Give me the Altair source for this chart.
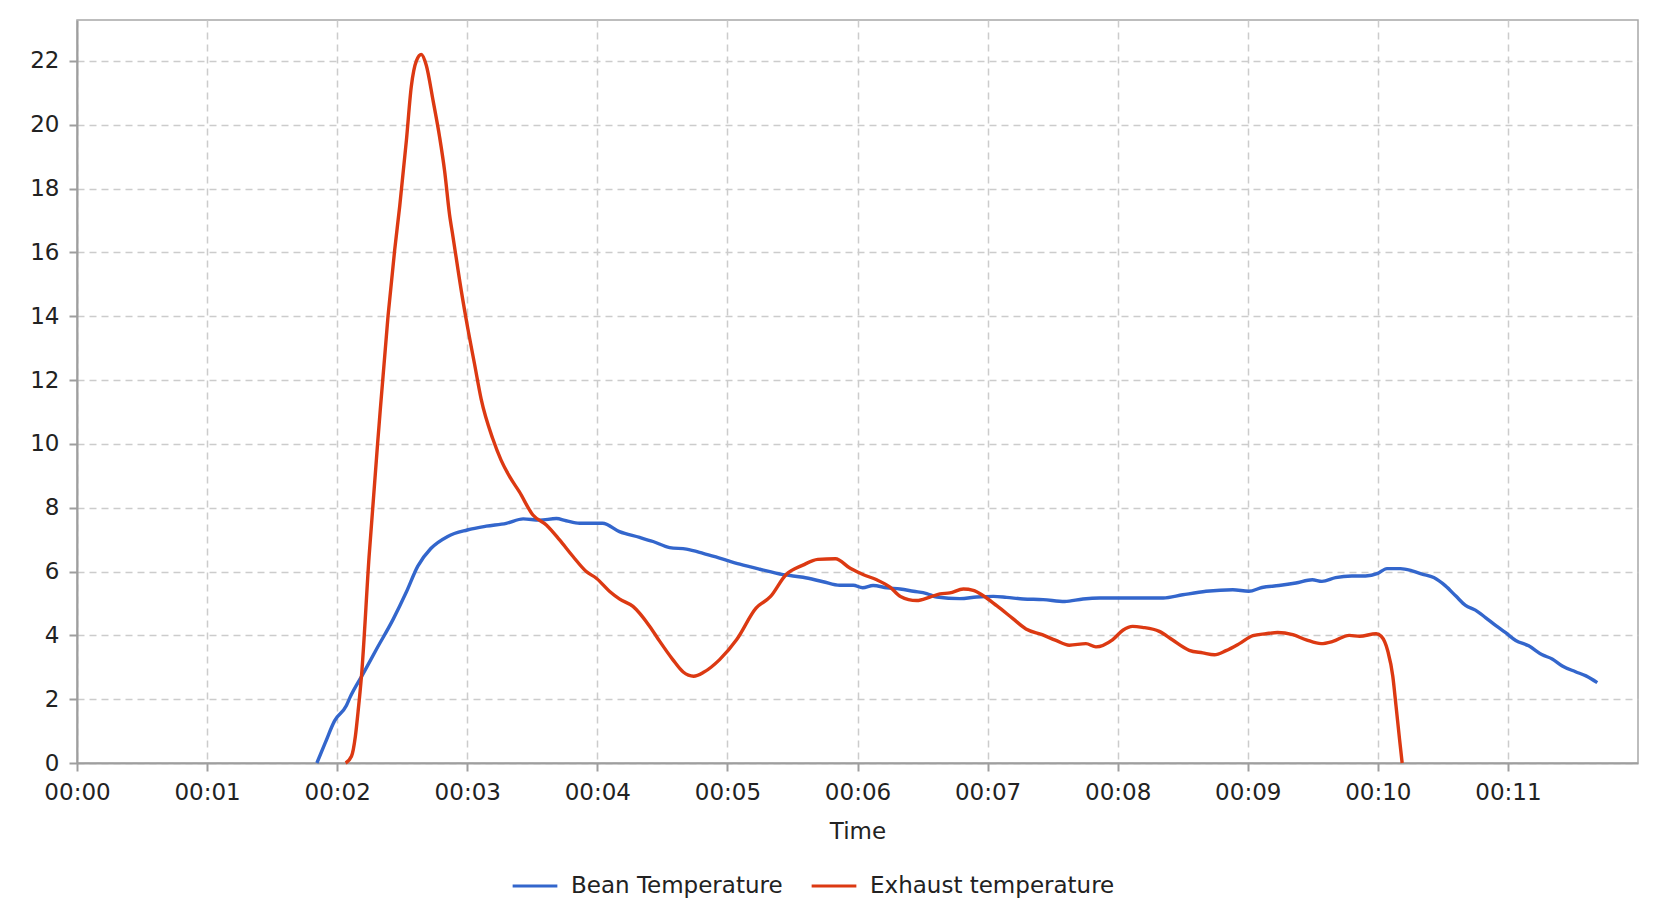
import altair as alt
import pandas as pd

bean_t = [1.844, 1.908, 1.98, 2.07, 2.097, 2.2, 2.30, 2.43, 2.53, 2.62, 2.72, 2.85, 3.0, 3.146, 3.30,
          3.43, 3.556, 3.685, 3.76, 3.864, 4.04, 4.17, 4.325, 4.428, 4.556, 4.685, 4.813, 4.94, 5.095,
          5.249, 5.428, 5.582, 5.736, 5.864, 5.967, 6.04, 6.12, 6.225, 6.327, 6.43, 6.532, 6.61, 6.788,
          6.916, 7.044, 7.146, 7.274, 7.427, 7.593, 7.734, 7.862, 8.115, 8.35, 8.5, 8.68, 8.885, 9.008,
          9.11, 9.24, 9.37, 9.496, 9.57, 9.675, 9.80, 9.905, 10.0, 10.07, 10.174, 10.264, 10.34, 10.43,
          10.52, 10.6, 10.674, 10.75, 10.83, 10.905, 10.98, 11.06, 11.16, 11.264, 11.34, 11.418, 11.52,
          11.6, 11.687]
bean_v = [0, 0.63, 1.32, 1.79, 2.04, 2.8, 3.55, 4.5, 5.34, 6.17, 6.72, 7.1, 7.3, 7.42, 7.51,
          7.65, 7.61, 7.66, 7.59, 7.51, 7.51, 7.25, 7.07, 6.94, 6.75, 6.70, 6.57, 6.42, 6.23,
          6.07, 5.90, 5.82, 5.68, 5.57, 5.57, 5.49, 5.56, 5.49, 5.45, 5.38, 5.31, 5.20, 5.15,
          5.20, 5.22, 5.19, 5.14, 5.12, 5.06, 5.14, 5.17, 5.17, 5.17, 5.27, 5.38, 5.43, 5.38,
          5.50, 5.56, 5.64, 5.74, 5.69, 5.81, 5.86, 5.86, 5.94, 6.09, 6.09, 6.02, 5.92, 5.81,
          5.55, 5.23, 4.94, 4.79, 4.55, 4.31, 4.09, 3.84, 3.67, 3.39, 3.26, 3.04, 2.86,
          2.73, 2.52]

exh_t = [2.065, 2.11, 2.14, 2.16, 2.187, 2.245, 2.322, 2.391, 2.442, 2.481, 2.532, 2.57, 2.609, 2.647,
         2.685, 2.737, 2.788, 2.826, 2.864, 2.89, 2.954, 3.005, 3.056, 3.107, 3.197, 3.26, 3.326, 3.40,
         3.505, 3.608, 3.71, 3.813, 3.915, 3.992, 4.095, 4.172, 4.274, 4.403, 4.48, 4.58, 4.66, 4.74,
         4.82, 4.94, 5.07, 5.22, 5.33, 5.45, 5.58, 5.695, 5.83, 5.944, 6.046, 6.148, 6.25, 6.33, 6.455,
         6.557, 6.634, 6.71, 6.814, 6.89, 6.967, 7.07, 7.19, 7.295, 7.42, 7.526, 7.628, 7.756, 7.833,
         7.96, 8.04, 8.115, 8.19, 8.32, 8.42, 8.55, 8.654, 8.744, 8.833, 8.936, 9.04, 9.14, 9.23,
         9.346, 9.45, 9.564, 9.654, 9.78, 9.86, 9.987, 10.026, 10.077, 10.115, 10.14, 10.167, 10.187]
exh_v = [0, 0.21, 0.84, 1.58, 2.73, 6.45, 10.58, 14.0, 16.07, 17.45, 19.5, 21.2, 22.0, 22.2,
         21.86, 20.76, 19.6, 18.55, 17.18, 16.5, 14.8, 13.6, 12.5, 11.4, 10.15, 9.49, 8.97, 8.5,
         7.77, 7.46, 6.99, 6.47, 6.0, 5.79, 5.375, 5.135, 4.906, 4.28, 3.81, 3.24, 2.85, 2.72,
         2.85, 3.24, 3.86, 4.85, 5.21, 5.9, 6.2, 6.38, 6.40, 6.1, 5.9, 5.74, 5.51, 5.22, 5.09,
         5.20, 5.30, 5.33, 5.45, 5.41, 5.24, 4.93, 4.54, 4.2, 4.02, 3.84, 3.69, 3.74, 3.64,
         3.86, 4.16, 4.28, 4.25, 4.125, 3.86, 3.53, 3.45, 3.39, 3.52, 3.74, 3.99, 4.05, 4.09,
         4.02, 3.86, 3.74, 3.81, 4.0, 3.97, 4.05, 3.97, 3.5, 2.72, 1.78, 0.74, 0]

series_names = ["Bean Temperature", "Exhaust temperature"]
series_colors = ["#3366cc", "#dc3912"]
x_ticks = list(range(0, 12))
y_ticks = list(range(0, 23, 2))

rows = []
for i, (t, v) in enumerate(zip(bean_t, bean_v)):
    rows.append({"t": t, "v": v, "s": series_names[0], "o": i})
for i, (t, v) in enumerate(zip(exh_t, exh_v)):
    rows.append({"t": t, "v": v, "s": series_names[1], "o": i})
df = pd.DataFrame(rows)

FONT = "DejaVu Sans"

chart = alt.Chart(df).mark_line(strokeWidth=3.4, interpolate="monotone").encode(
    x=alt.X("t:Q", title="Time",
            scale=alt.Scale(domain=[0, 12], nice=False, zero=False),
            axis=alt.Axis(values=x_ticks,
                          labelExpr="'00:' + (datum.value < 10 ? '0' : '') + datum.value",
                          labelFlush=False, labelPadding=10, titlePadding=16)),
    y=alt.Y("v:Q", title=None,
            scale=alt.Scale(domain=[0, 23.28], nice=False),
            axis=alt.Axis(values=y_ticks, labelPadding=10)),
    color=alt.Color("s:N",
                    scale=alt.Scale(domain=series_names, range=series_colors),
                    legend=alt.Legend(title=None, orient="none", direction="horizontal",
                                      legendX=434, legendY=842,
                                      symbolType="stroke", symbolSize=2000,
                                      symbolStrokeWidth=3, labelOffset=12,
                                      columnPadding=22, labelFontSize=23, labelLimit=500,
                                      labelFont=FONT, labelColor="#222222")),
    order="o:Q",
).properties(
    width=1561, height=743,
    autosize=alt.AutoSizeParams(type="none"),
    padding={"left": 69, "top": 12, "right": 20, "bottom": 140},
).configure_view(
    stroke="#a8a8a8", strokeWidth=1.5
).configure_axis(
    labelFont=FONT, titleFont=FONT, labelFontSize=23, titleFontSize=23,
    titleFontWeight="normal", labelColor="#222222", titleColor="#222222",
    domainColor="#9e9e9e", domainWidth=2, tickColor="#9e9e9e", tickWidth=2, tickSize=8,
    grid=True, gridColor="#cccccc", gridDash=[7, 5], gridWidth=1.5,
)

chart.save("out.html", embed_options={"renderer": "svg", "actions": False})
